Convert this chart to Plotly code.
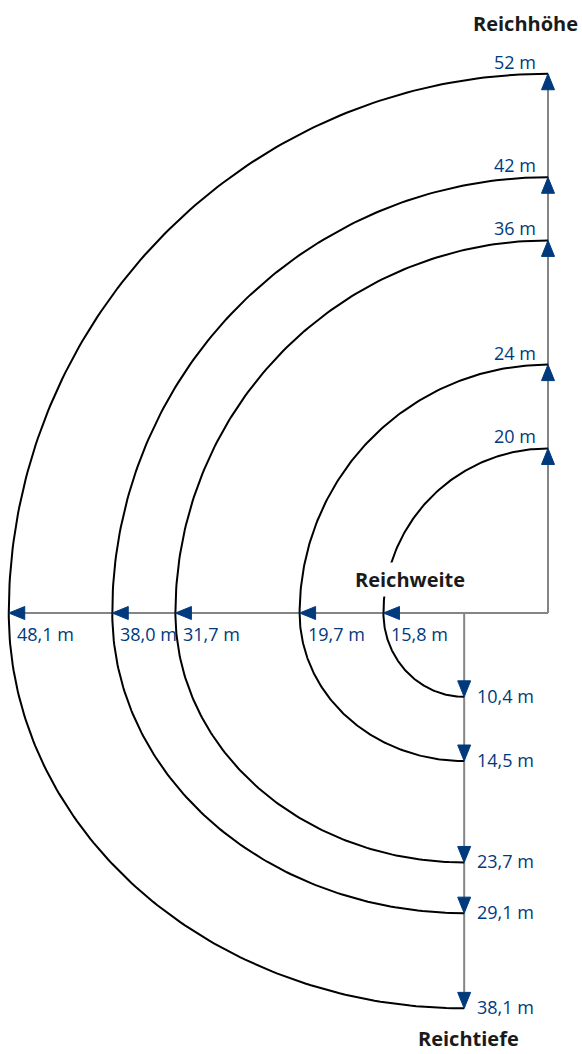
import numpy as np
import plotly.graph_objects as go

# ---- data (values printed in the diagram) ----
height_m = [20, 24, 36, 42, 52]            # Reichhöhe
reach_m = [15.8, 19.7, 31.7, 38.0, 48.1]   # Reichweite
depth_m = [10.4, 14.5, 23.7, 29.1, 38.1]   # Reichtiefe

# schematic geometry of the drawing, read off the picture on its metre scale:
# radius at which each reach curve meets the height / reach axes, and the depth where it ends
drawn_radius_m = [15.9, 24.0, 36.0, 42.1, 52.1]
drawn_depth_m = [8.1, 14.3, 24.1, 29.0, 38.2]

axis_titles = ["Reichhöhe", "Reichweite", "Reichtiefe"]


def fmt(v, dec):
    return (f"{v:.{dec}f} m").replace(".", ",")


height_labels = [fmt(v, 0) for v in height_m]
reach_labels = [fmt(v, 1) for v in reach_m]
depth_labels = [fmt(v, 1) for v in depth_m]

# ---- layout constants ----
W, H = 582, 1054
PX = 10.35                 # pixels per metre in the graphic
OX, OY = 548, 613          # corner of height/reach axes, figure pixels
NAVY = "#003a7d"
GREY = "#858585"
FONT = "Open Sans"

x_range = [-OX / PX, (W - OX) / PX]
y_range = [-(H - OY) / PX, OY / PX]

depth_axis_x = -drawn_depth_m[0]
r_max = max(drawn_radius_m)
d_max = max(drawn_depth_m)

fig = go.Figure()

# axes lines (grey)
fig.add_trace(go.Scatter(
    x=[0, 0, None, -r_max, 0, None, depth_axis_x, depth_axis_x],
    y=[r_max, 0, None, 0, 0, None, 0, -d_max],
    mode="lines", line=dict(color=GREY, width=2),
    hoverinfo="skip", showlegend=False))

# reach curves (black)
for r, d in zip(drawn_radius_m, drawn_depth_m):
    t1 = np.linspace(np.pi / 2, np.pi, 120)
    t2 = np.linspace(np.pi, 1.5 * np.pi, 120)
    a = r + depth_axis_x
    xs = np.concatenate([r * np.cos(t1), depth_axis_x + a * np.cos(t2)])
    ys = np.concatenate([r * np.sin(t1), d * np.sin(t2)])
    fig.add_trace(go.Scatter(x=xs, y=ys, mode="lines",
                             line=dict(color="black", width=2),
                             hoverinfo="skip", showlegend=False))

# arrowheads (navy filled triangles)
L = 16 / PX
HW = 6.5 / PX
ax, ay = [], []
for r in drawn_radius_m:
    ax += [0, -HW, HW, 0, None]
    ay += [r, r - L, r - L, r, None]
    ax += [-r, -r + L, -r + L, -r, None]
    ay += [0, HW, -HW, 0, None]
for d in drawn_depth_m:
    ax += [depth_axis_x, depth_axis_x - HW, depth_axis_x + HW, depth_axis_x, None]
    ay += [-d, -d + L, -d + L, -d, None]
fig.add_trace(go.Scatter(x=ax, y=ay, mode="lines", fill="toself",
                         fillcolor=NAVY, line=dict(color=NAVY, width=1),
                         hoverinfo="skip", showlegend=False))

ann = []
lab_font = dict(family=FONT, size=18, color=NAVY)
for r, lab in zip(drawn_radius_m, height_labels):
    ann.append(dict(x=0, y=r, xref="x", yref="y", text=lab, showarrow=False,
                    xanchor="right", yanchor="middle", xshift=-10, yshift=12,
                    font=lab_font))
for r, lab in zip(drawn_radius_m, reach_labels):
    ann.append(dict(x=-r, y=0, xref="x", yref="y", text=lab, showarrow=False,
                    xanchor="left", yanchor="middle", xshift=6, yshift=-21,
                    font=lab_font))
for d, lab in zip(drawn_depth_m, depth_labels):
    ann.append(dict(x=depth_axis_x, y=-d, xref="x", yref="y", text=lab, showarrow=False,
                    xanchor="left", yanchor="middle", xshift=11, yshift=1,
                    font=lab_font))

title_font = dict(family=FONT, size=20, color="#1a1a1a")
# Reichhöhe: top right
ann.append(dict(x=579 / W, y=1 - 23 / H, xref="paper", yref="paper",
                text=f"<b>{axis_titles[0]}</b>", showarrow=False,
                xanchor="right", yanchor="middle", borderpad=0, font=title_font))
# Reichweite: over the curves, white background
ann.append(dict(x=410 / W, y=1 - 579 / H, xref="paper", yref="paper",
                text=f"<b>{axis_titles[1]}</b>", showarrow=False,
                xanchor="center", yanchor="middle", bgcolor="white", borderpad=3,
                font=title_font))
# Reichtiefe: bottom
ann.append(dict(x=468 / W, y=0, xref="paper", yref="paper",
                text=f"<b>{axis_titles[2]}</b>", showarrow=False,
                xanchor="center", yanchor="bottom", borderpad=0, yshift=1,
                font=title_font))

fig.update_layout(
    width=W, height=H,
    margin=dict(l=0, r=0, t=0, b=0),
    paper_bgcolor="white", plot_bgcolor="white",
    xaxis=dict(range=x_range, visible=False, fixedrange=True),
    yaxis=dict(range=y_range, visible=False, fixedrange=True),
    annotations=ann,
    showlegend=False,
)

fig.write_html(
    "out.html",
    config={"displayModeBar": False},
    post_script="document.body.style.margin='0';document.body.style.overflow='hidden';",
)
